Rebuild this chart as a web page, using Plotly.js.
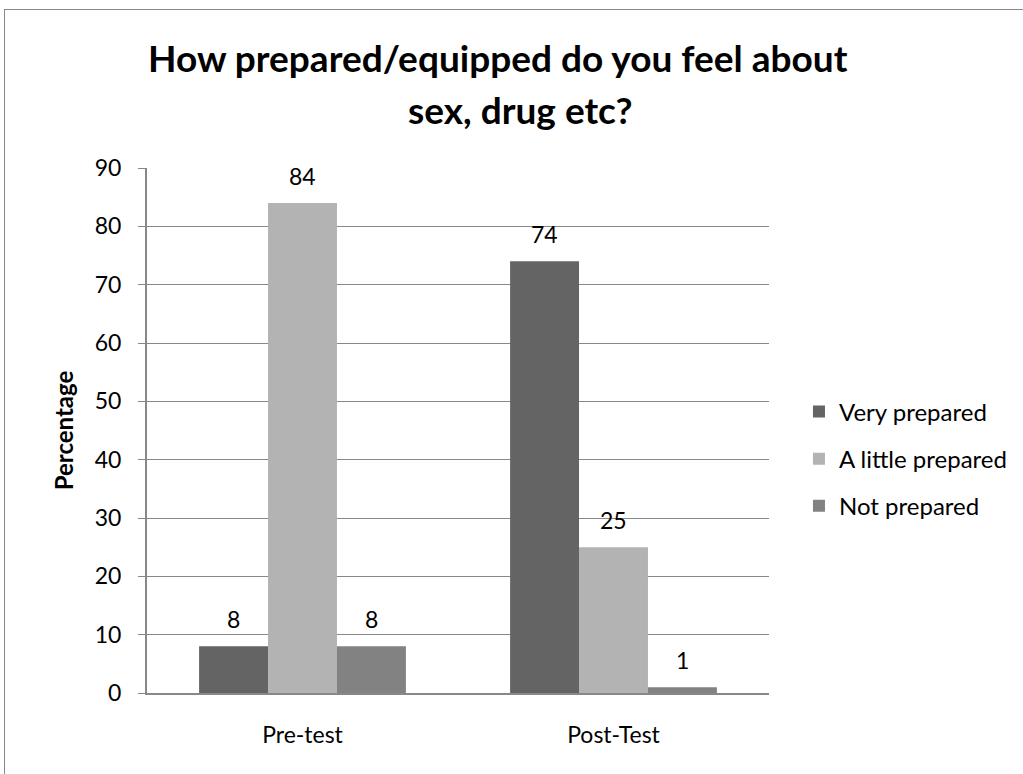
<!DOCTYPE html>
<html>
<head>
<meta charset="utf-8">
<script src="https://cdn.plot.ly/plotly-3.0.1.min.js"></script>
<style>
  html, body { margin: 0; padding: 0; background: #fff; }
  #wrap { position: relative; width: 1023px; height: 774px; overflow: hidden; }
  #chart { width: 1023px; height: 774px; }
  #frame { position: absolute; left: 4px; top: 9px; width: 1030px; height: 780px;
           border: 1px solid #888; pointer-events: none; }
</style>
</head>
<body>
<div id="wrap">
  <div id="chart"></div>
  <div id="frame"></div>
</div>
<script>
// Survey responses, in percent
const groups = ["Pre-test", "Post-Test"];
const veryPrepared = [8, 74];
const littlePrepared = [84, 25];
const notPrepared = [8, 1];

const seriesNames = ["Very prepared", "A little prepared", "Not prepared"];
const seriesColors = ["#646464", "#b3b3b3", "#828282"];
const seriesValues = [veryPrepared, littlePrepared, notPrepared];

const titleLines = ["How prepared/equipped do you feel about", "sex, drug etc?"];

const fontFamily = "Lato, 'Open Sans', 'Liberation Sans', sans-serif";
const BARGAP = 0.335;
const barWidth = (1 - BARGAP) / seriesValues.length;

const traces = seriesValues.map((vals, i) => ({
  type: "bar",
  name: seriesNames[i],
  legendgroup: "g" + i,
  x: groups,
  y: vals,
  marker: { color: seriesColors[i] },
  hoverinfo: "x+y+name"
}));

// value labels above each bar, placed in data coordinates
const annotations = [];
seriesValues.forEach((vals, i) => {
  const offset = (i - (seriesValues.length - 1) / 2) * barWidth;
  vals.forEach((v, j) => {
    annotations.push({
      x: j + offset, y: v, xref: "x", yref: "y",
      text: String(v), showarrow: false,
      xanchor: "center", yanchor: "middle", yshift: 27,
      font: { family: fontFamily, size: 23, color: "#000" }
    });
  });
});

// two-line chart title
const titleFont = { family: fontFamily, size: 37, color: "#000" };
annotations.push({
  x: 0.565, y: 1.211, xref: "paper", yref: "paper",
  text: "<b>" + titleLines[0] + "</b>", showarrow: false,
  xanchor: "center", yanchor: "middle", font: titleFont
});
annotations.push({
  x: 0.6, y: 1.111, xref: "paper", yref: "paper",
  text: "<b>" + titleLines[1] + "</b>", showarrow: false,
  xanchor: "center", yanchor: "middle", font: titleFont
});

const layout = {
  width: 1023,
  height: 774,
  margin: { l: 147, r: 253, t: 168, b: 81 },
  paper_bgcolor: "#fff",
  plot_bgcolor: "#fff",
  font: { family: fontFamily, color: "#000" },
  barmode: "group",
  bargap: BARGAP,
  bargroupgap: 0,
  xaxis: {
    showgrid: false,
    showline: true,
    linecolor: "#888",
    linewidth: 2,
    ticks: "",
    tickfont: { family: fontFamily, size: 23, color: "#000" },
    ticklabelstandoff: 20
  },
  yaxis: {
    range: [0, 90],
    dtick: 10,
    showgrid: true,
    gridcolor: "#888",
    gridwidth: 1,
    showline: true,
    linecolor: "#888",
    linewidth: 2,
    ticks: "outside",
    ticklen: 7,
    tickcolor: "#888",
    zeroline: false,
    tickfont: { family: fontFamily, size: 23, color: "#000" },
    ticklabelstandoff: 12,
    title: {
      text: "<b>Percentage</b>",
      font: { family: fontFamily, size: 24, color: "#000" },
      standoff: 14
    }
  },
  legend: {
    x: 1.0465,
    xanchor: "left",
    y: 0.446,
    yanchor: "middle",
    traceorder: "grouped",
    font: { family: fontFamily, size: 24, color: "#000" },
    tracegroupgap: 13,
    itemwidth: 30,
    bgcolor: "rgba(0,0,0,0)"
  },
  annotations: annotations,
  showlegend: true
};

Plotly.newPlot("chart", traces, layout, { displayModeBar: false, staticPlot: true });
</script>
</body>
</html>
